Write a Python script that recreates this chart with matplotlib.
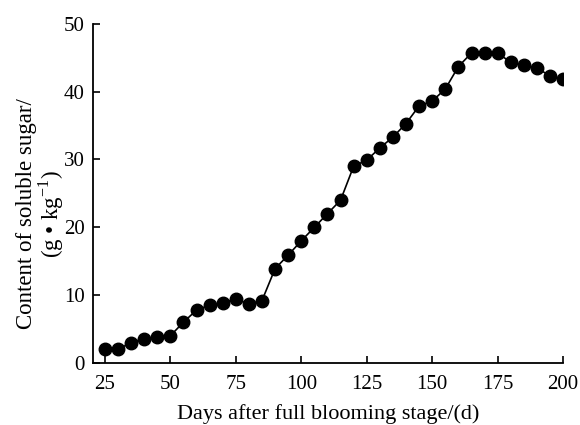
import matplotlib
matplotlib.use("Agg")
import matplotlib.pyplot as plt

days = list(range(25, 205, 5))
sugar = [2.0, 2.0, 3.0, 3.6, 3.8, 4.0, 6.0, 7.8, 8.5, 8.9, 9.4, 8.7, 9.2,
         13.9, 15.9, 18.0, 20.0, 22.0, 24.0, 29.0, 29.9, 31.7, 33.3, 35.3,
         37.9, 38.6, 40.4, 43.7, 45.7, 45.7, 45.7, 44.3, 43.9, 43.5, 42.3, 41.9]
xticks = [25, 50, 75, 100, 125, 150, 175, 200]
yticks = [0, 10, 20, 30, 40, 50]

plt.rcParams['font.family'] = ['Liberation Serif', 'DejaVu Serif']
plt.rcParams['mathtext.fontset'] = 'custom'
plt.rcParams['mathtext.rm'] = 'Liberation Serif'

fig = plt.figure(figsize=(5.8, 4.25), dpi=100)
ax = fig.add_axes([0.160, 0.146, 0.811, 0.798])
ax.plot(days, sugar, color='black', lw=1.2, marker='o', ms=9)
ax.set_xlim(20.4, 200)
ax.set_ylim(0, 50)
ax.set_xticks(xticks)
ax.set_yticks(yticks)
for s in ['top', 'right']:
    ax.spines[s].set_visible(False)
for s in ['left', 'bottom']:
    ax.spines[s].set_linewidth(1.3)
ax.tick_params(direction='in', length=5, width=1.2, labelsize=15, colors='black')
ax.tick_params(axis='x', pad=9)
ax.tick_params(axis='y', pad=6)
ax.set_xlabel('Days after full blooming stage/(d)', fontsize=16, labelpad=7)
ax.set_ylabel('Content of soluble sugar/\n(g • kg$^{\\mathrm{-1}}$)', fontsize=16.5, linespacing=0.95)
ax.yaxis.set_label_coords(-0.058, 0.44)
fig.savefig('out.png', dpi=100)
